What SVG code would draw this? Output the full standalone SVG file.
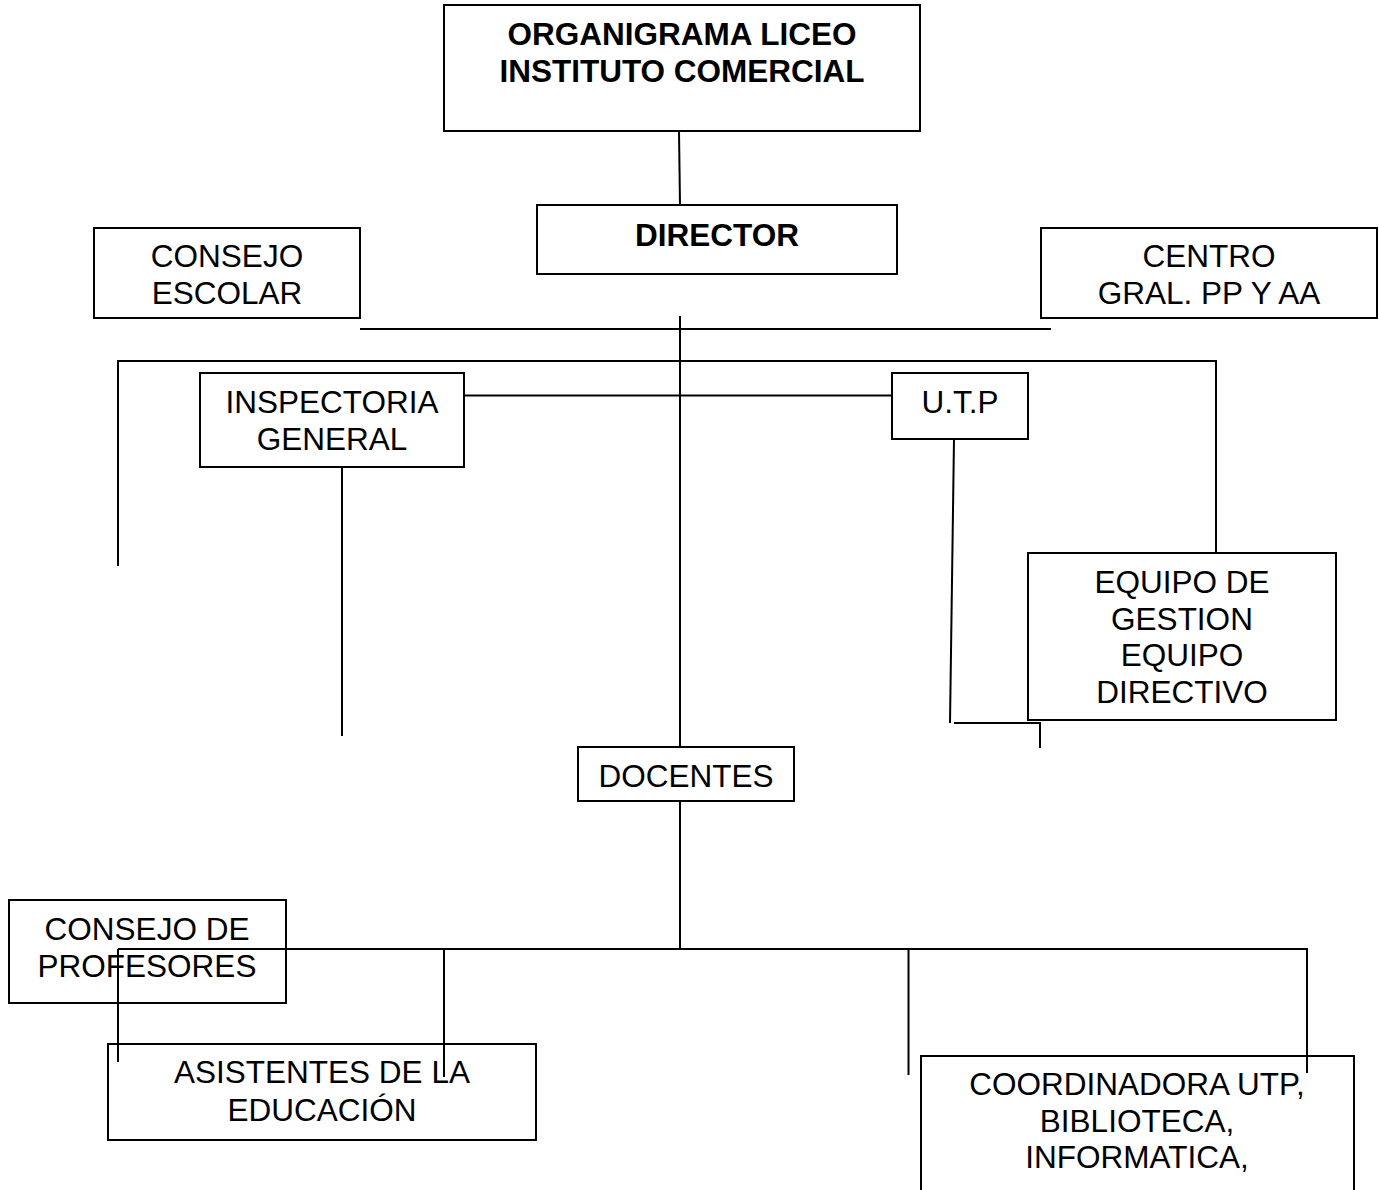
<svg xmlns="http://www.w3.org/2000/svg" width="1379" height="1190" viewBox="0 0 1379 1190">
<style>
.box{fill:#fff;stroke:#000;stroke-width:2}
.t{font-family:"Liberation Sans",Arial,sans-serif;font-size:31.5px;fill:#000;text-anchor:middle}
.b{font-weight:bold}
.c line,.c polyline{stroke:#000;stroke-width:2;fill:none}
</style>
<rect width="1379" height="1190" fill="#fff"/>
<g class="c" id="connectors">
<line x1="679" y1="131" x2="680" y2="205"/>
<line x1="680" y1="316" x2="680" y2="747"/>
<line x1="360" y1="329" x2="1051" y2="329"/>
<polyline points="118,566 118,361 1216,361 1216,553"/>
<line x1="464" y1="395.5" x2="892" y2="395.5"/>
<line x1="342" y1="467" x2="342" y2="736"/>
<line x1="954" y1="439" x2="950" y2="723"/>
<polyline points="954,723 1040,723 1040,748"/>
<line x1="680" y1="801" x2="680" y2="949"/>
<polyline points="118,1062 118,949 1307,949 1307,1073"/>
<line x1="444" y1="949" x2="444" y2="1077"/>
<line x1="908.5" y1="949" x2="908.5" y2="1075"/>
</g>
<g id="titulo">
<rect class="box" x="444" y="5" width="476" height="126"/>
<text class="t b" x="682" y="45">ORGANIGRAMA LICEO</text>
<text class="t b" x="682" y="82">INSTITUTO COMERCIAL</text>
</g>
<g id="director">
<rect class="box" x="537" y="205" width="360" height="69"/>
<text class="t b" x="717" y="246">DIRECTOR</text>
</g>
<g id="consejo-escolar">
<rect class="box" x="94" y="228" width="266" height="90"/>
<text class="t" x="227" y="267">CONSEJO</text>
<text class="t" x="227" y="304">ESCOLAR</text>
</g>
<g id="centro-gral">
<rect class="box" x="1041" y="228" width="336" height="90"/>
<text class="t" x="1209" y="267">CENTRO</text>
<text class="t" x="1209" y="304">GRAL. PP Y AA</text>
</g>
<g id="inspectoria">
<rect class="box" x="200" y="373" width="264" height="94"/>
<text class="t" x="332" y="413">INSPECTORIA</text>
<text class="t" x="332" y="450">GENERAL</text>
</g>
<g id="utp">
<rect class="box" x="892" y="373" width="136" height="66"/>
<text class="t" x="960" y="413">U.T.P</text>
</g>
<g id="equipo-gestion">
<rect class="box" x="1028" y="553" width="308" height="167"/>
<text class="t" x="1182" y="593">EQUIPO DE</text>
<text class="t" x="1182" y="629.5">GESTION</text>
<text class="t" x="1182" y="666">EQUIPO</text>
<text class="t" x="1182" y="702.5">DIRECTIVO</text>
</g>
<g id="docentes">
<rect class="box" x="578" y="747" width="216" height="54"/>
<text class="t" x="686" y="787">DOCENTES</text>
</g>
<g id="consejo-profesores">
<rect class="box" x="9" y="900" width="277" height="103"/>
<text class="t" x="147" y="940">CONSEJO DE</text>
<text class="t" x="147" y="977">PROFESORES</text>
</g>
<g id="asistentes">
<rect class="box" x="108" y="1044" width="428" height="96"/>
<text class="t" x="322" y="1083">ASISTENTES DE LA</text>
<text class="t" x="322" y="1121">EDUCACIÓN</text>
</g>
<g id="coordinadora">
<rect class="box" x="921" y="1056" width="433" height="150"/>
<text class="t" x="1137" y="1095">COORDINADORA UTP,</text>
<text class="t" x="1137" y="1132">BIBLIOTECA,</text>
<text class="t" x="1137" y="1168">INFORMATICA,</text>
</g>
<g id="overlap-lines" class="c">
<line x1="118" y1="949" x2="286" y2="949"/>
<line x1="118" y1="949" x2="118" y2="1062"/>
<line x1="444" y1="1044" x2="444" y2="1077"/>
<line x1="1307" y1="1056" x2="1307" y2="1073"/>
</g>
</svg>
